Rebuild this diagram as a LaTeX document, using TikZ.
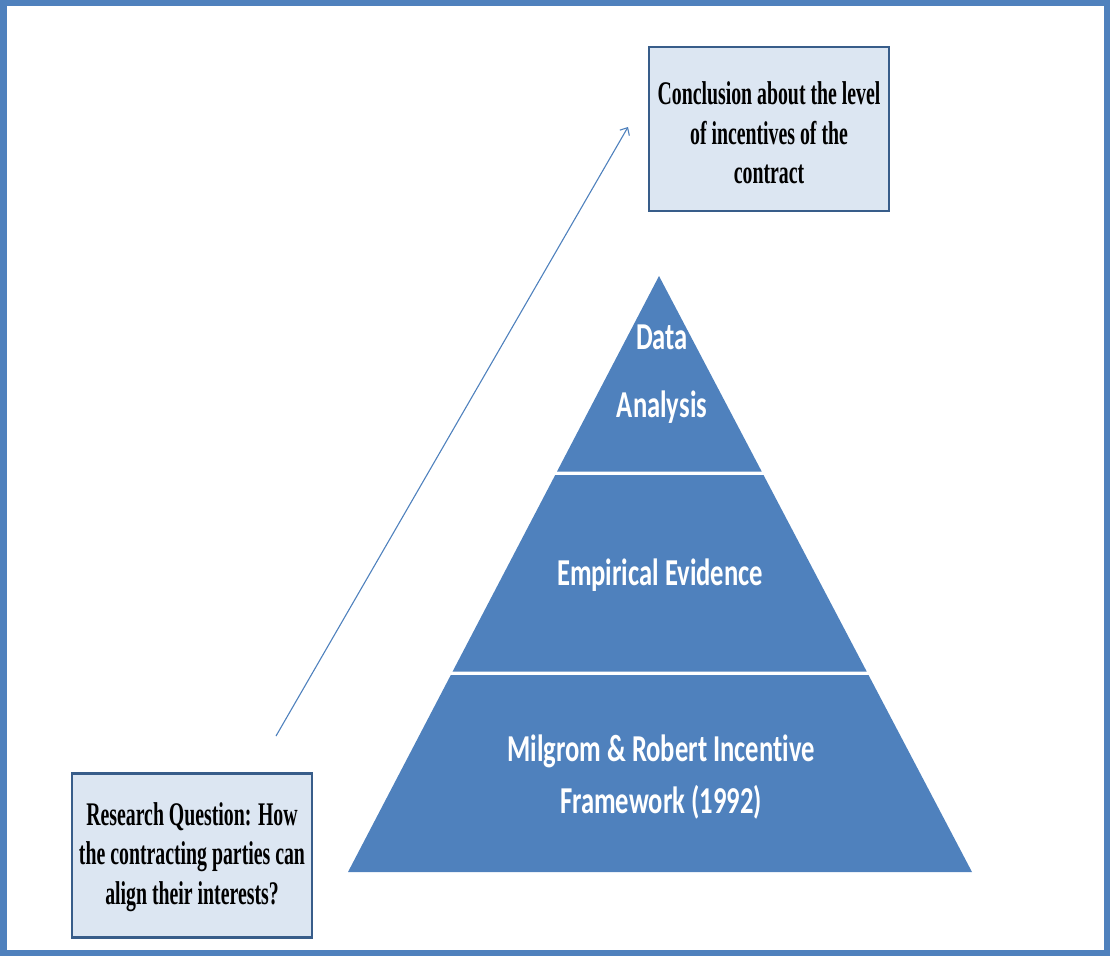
\documentclass[tikz,border=0pt]{standalone}
\usepackage{fontspec}
\usetikzlibrary{arrows.meta}
\newfontfamily\boxserif{Liberation Serif}[FakeStretch=0.6]
\newfontfamily\tiersans{Carlito}[FakeStretch=0.7, Ligatures=NoCommon]
\definecolor{tierblue}{HTML}{4F81BD}
\definecolor{boxfill}{HTML}{DCE6F2}
\definecolor{boxedge}{HTML}{385D8A}
\tikzset{
  notebox/.style={draw=boxedge, line width=2.2pt, fill=boxfill, inner sep=0pt,
    minimum width=240pt, minimum height=164pt, align=center,
    font=\boxserif\bfseries\fontsize{33}{39.5}\selectfont},
  tierlabel/.style={text=white, align=center, inner sep=0pt,
    font=\tiersans\bfseries\fontsize{38}{52}\selectfont},
  tier/.style={fill=tierblue, draw=none},
  flowarrow/.style={draw=tierblue, line width=1.1pt,
    -{Straight Barb[length=6pt,width=11pt]}}
}
\begin{document}
\begin{tikzpicture}[x=1pt,y=-1pt]
\useasboundingbox (0,0) rectangle (1110,955);
% outer frame
\draw[tierblue, line width=6.5pt] (3.5,3) rectangle (1107,953);

% pyramid tiers
\fill[tier] (659,276) -- (761.7,471.5) -- (557,471.5) -- cycle;
\fill[tier] (555.2,475) -- (763.5,475) -- (866.7,671.5) -- (452.6,671.5) -- cycle;
\fill[tier] (450.8,675) -- (868.5,675) -- (972,872) -- (348,872) -- cycle;

\node[tierlabel] (data) at (662,374) {Data\\[16pt]Analysis};
\node[tierlabel] (empirical) at (660,575) {Empirical Evidence};
\node[tierlabel] (milgrom) at (661,777) {Milgrom \& Robert Incentive\\Framework (1992)};

% text boxes
\node[notebox] (conclusion) at (769,129) {};
\node[align=center, font=\boxserif\bfseries\fontsize{33}{39.5}\selectfont, inner sep=0pt]
  (conclusiontext) at (769,133) {Conclusion about the level\\of incentives of the\\contract};
\node[notebox] (question) at (192,855.5) {};
\node[align=center, font=\boxserif\bfseries\fontsize{33}{39.5}\selectfont, inner sep=0pt]
  (questiontext) at (192,857) {Research Question: How\\the contracting parties can\\align their interests?};

% progression arrow
\coordinate (arrowstart) at (276,736);
\coordinate (arrowend) at (628,127);
\draw[flowarrow] (arrowstart) -- (arrowend);
\end{tikzpicture}
\end{document}
